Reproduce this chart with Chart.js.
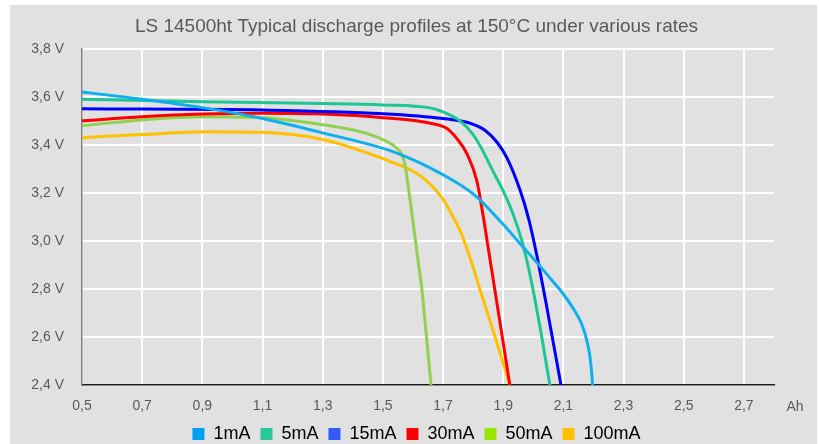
<!DOCTYPE html>
<html>
<head>
<meta charset="utf-8">
<title>LS 14500ht discharge profiles</title>
<script src="https://cdn.jsdelivr.net/npm/chart.js@4.4.0/dist/chart.umd.min.js"></script>
<style>
  html, body { margin: 0; padding: 0; background: #ffffff; }
  #wrap { position: absolute; left: 10px; top: 5px; width: 807px; height: 439px; background: #e1e1e1; }
</style>
</head>
<body>
<div id="wrap"><canvas id="dischargeChart" width="807" height="439"></canvas></div>
<script>
// values (Ah / V)
const seriesNames = ['1mA', '5mA', '15mA', '30mA', '50mA', '100mA'];

const ah1mA = [0.5, 0.7, 0.9, 1.1, 1.3, 1.54, 1.695, 1.806, 1.899, 1.955, 2.022, 2.066, 2.099, 2.132, 2.16, 2.177, 2.188, 2.194, 2.197];
const v1mA  = [3.62, 3.59, 3.555, 3.51, 3.45, 3.369, 3.279, 3.19, 3.07, 2.99, 2.895, 2.83, 2.78, 2.72, 2.656, 2.59, 2.52, 2.45, 2.40];

const ah5mA = [0.5, 0.9, 1.3, 1.5, 1.656, 1.69, 1.756, 1.80, 1.832, 1.865, 1.899, 1.932, 1.962, 1.988, 2.02, 2.055];
const v5mA  = [3.59, 3.58, 3.572, 3.566, 3.554, 3.542, 3.50, 3.443, 3.376, 3.293, 3.21, 3.114, 3.0, 2.865, 2.657, 2.40];

const ah15mA = [0.5, 1.1, 1.5, 1.7, 1.79, 1.84, 1.88, 1.912, 1.955, 1.985, 2.01, 2.044, 2.092];
const v15mA  = [3.55, 3.545, 3.53, 3.51, 3.49, 3.46, 3.41, 3.347, 3.215, 3.09, 2.95, 2.73, 2.40];

const ah30mA = [0.5, 0.7, 0.9, 1.1, 1.3, 1.5, 1.666, 1.713, 1.746, 1.779, 1.812, 1.832, 1.849, 1.922];
const v30mA  = [3.50, 3.517, 3.528, 3.532, 3.528, 3.513, 3.488, 3.468, 3.426, 3.364, 3.252, 3.114, 2.98, 2.40];

const ah50mA = [0.5, 0.7, 0.9, 1.1, 1.3, 1.424, 1.5, 1.54, 1.562, 1.573, 1.584, 1.601, 1.617, 1.63, 1.646, 1.66];
const v50mA  = [3.48, 3.504, 3.517, 3.513, 3.484, 3.455, 3.422, 3.393, 3.362, 3.321, 3.23, 3.072, 2.919, 2.795, 2.587, 2.40];

const ah100mA = [0.5, 0.7, 0.9, 1.1, 1.3, 1.54, 1.606, 1.65, 1.695, 1.728, 1.761, 1.795, 1.822, 1.872, 1.922];
const v100mA  = [3.43, 3.443, 3.455, 3.452, 3.422, 3.323, 3.286, 3.245, 3.182, 3.113, 3.03, 2.91, 2.80, 2.605, 2.40];

const xTicks = [0.5, 0.7, 0.9, 1.1, 1.3, 1.5, 1.7, 1.9, 2.1, 2.3, 2.5, 2.7];
const yTicks = [2.4, 2.6, 2.8, 3.0, 3.2, 3.4, 3.6, 3.8];

const lineColors   = ['#0FAFEF', '#1DC795', '#0000FF', '#FF0000', '#92D050', '#FFC000'];
const legendColors = ['#00A0F0', '#27C999', '#2F5BFF', '#FF0000', '#99E600', '#FFC000'];

const fontFamily = "'Liberation Sans', Arial, sans-serif";

function toPoints(xs, ys) {
    return xs.map((x, i) => ({ x: x, y: ys[i] }));
}

const seriesData = [
    toPoints(ah1mA, v1mA),
    toPoints(ah5mA, v5mA),
    toPoints(ah15mA, v15mA),
    toPoints(ah30mA, v30mA),
    toPoints(ah50mA, v50mA),
    toPoints(ah100mA, v100mA)
];

// "Ah" unit written at the right end of the x axis
const axisUnit = {
    id: 'axisUnit',
    afterDraw(chart) {
        const { ctx, chartArea } = chart;
        ctx.save();
        ctx.font = '14px ' + fontFamily;
        ctx.fillStyle = '#595959';
        ctx.textAlign = 'center';
        ctx.textBaseline = 'middle';
        ctx.fillText('Ah', chartArea.right + 21, chartArea.bottom + 22);
        ctx.restore();
    }
};

const ctx = document.getElementById('dischargeChart').getContext('2d');
const dischargeChart = new Chart(ctx, {
    type: 'line',
    data: {
        datasets: seriesNames.map((name, i) => ({
            label: name,
            data: seriesData[i],
            borderColor: lineColors[i],
            backgroundColor: lineColors[i],
            borderWidth: 3,
            pointRadius: 0,
            fill: false,
            cubicInterpolationMode: 'monotone'
        }))
    },
    options: {
        responsive: false,
        animation: false,
        layout: {
            padding: { left: 6, right: 0, top: 0, bottom: -9 }
        },
        scales: {
            x: {
                type: 'linear',
                min: 0.5,
                max: 2.8,
                afterBuildTicks: scale => { scale.ticks = xTicks.map(v => ({ value: v })); },
                afterFit: scale => { scale.height = 30; },
                grid: { color: '#ffffff', lineWidth: 2, drawTicks: false },
                border: { color: '#1a1a1a', width: 1.5 },
                ticks: {
                    padding: 13,
                    color: '#595959',
                    font: { size: 14, family: fontFamily },
                    maxRotation: 0,
                    callback: v => v.toFixed(1).replace('.', ',')
                }
            },
            y: {
                min: 2.4,
                max: 3.8,
                afterBuildTicks: scale => { scale.ticks = yTicks.map(v => ({ value: v })); },
                afterFit: scale => { scale.width = 66; },
                grid: { color: '#ffffff', lineWidth: 2, drawTicks: false },
                border: { color: '#7f7f7f', width: 1.5 },
                ticks: {
                    padding: 18,
                    color: '#595959',
                    font: { size: 14, family: fontFamily },
                    callback: v => v.toFixed(1).replace('.', ',') + ' V'
                }
            },
            yRight: {
                position: 'right',
                grid: { display: false },
                border: { display: false },
                ticks: { display: false },
                afterFit: scale => { scale.width = 43; }
            }
        },
        plugins: {
            title: {
                display: true,
                text: 'LS 14500ht Typical discharge profiles at 150°C under various rates',
                color: '#595959',
                font: { size: 19, family: fontFamily, weight: 'normal' },
                padding: { top: 10, bottom: 11 }
            },
            legend: {
                position: 'bottom',
                labels: {
                    boxWidth: 12,
                    boxHeight: 12,
                    padding: 10,
                    color: '#262626',
                    font: { size: 18, family: fontFamily },
                    generateLabels: chart => chart.data.datasets.map((ds, i) => ({
                        text: ds.label,
                        fillStyle: legendColors[i],
                        strokeStyle: legendColors[i],
                        lineWidth: 0,
                        hidden: false,
                        datasetIndex: i
                    }))
                }
            },
            tooltip: { enabled: false }
        }
    },
    plugins: [axisUnit]
});
</script>
</body>
</html>
